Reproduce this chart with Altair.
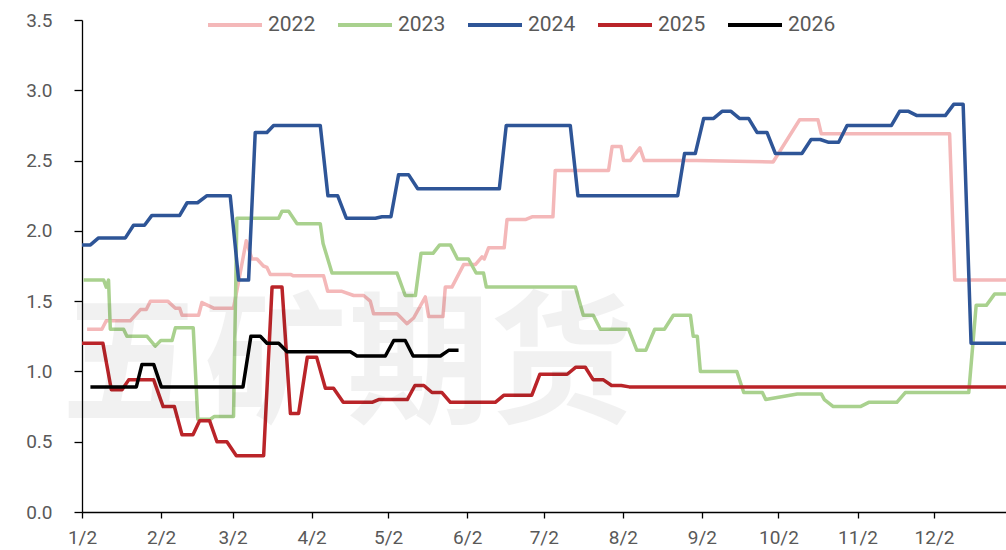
import altair as alt
import pandas as pd

# Series names and colours
years = ["2022", "2023", "2024", "2025", "2026"]
colors = ["#F4B8B9", "#A9D18E", "#2E5597", "#BA2429", "#000000"]

# x = days counted from 2 January, y = value
day_2022 = [2.0, 7.8, 9.5, 18.9, 22.9, 25.2, 26.8, 33.6, 36.6, 38.3,
            39.2, 45.7, 47.0, 51.6, 59.4, 64.4, 66.6, 68.6, 71.1, 72.5,
            73.8, 81.7, 82.9, 94.7, 96.3, 101.9, 106.5, 110.4, 113.0, 114.3,
            123.5, 127.4, 130.0, 134.6, 135.9, 141.5, 142.4, 145.0, 149.6, 154.2,
            156.8, 157.7, 159.4, 165.5, 166.6, 173.8, 176.4, 184.6, 185.5, 206.4,
            207.8, 211.3, 212.3, 214.9, 218.7, 220.4, 240.8, 270.9, 281.3, 288.5,
            289.8, 340.1, 342.1, 362.2]
val_2022 = [1.30, 1.30, 1.36, 1.36, 1.44, 1.44, 1.50, 1.50, 1.45, 1.45,
            1.40, 1.40, 1.49, 1.45, 1.45, 1.93, 1.80, 1.80, 1.75, 1.74,
            1.69, 1.69, 1.68, 1.68, 1.57, 1.57, 1.54, 1.54, 1.50, 1.41,
            1.41, 1.34, 1.38, 1.53, 1.39, 1.39, 1.60, 1.60, 1.76, 1.76,
            1.815, 1.80, 1.88, 1.88, 2.08, 2.08, 2.10, 2.10, 2.43, 2.43,
            2.60, 2.60, 2.50, 2.50, 2.59, 2.50, 2.50, 2.49, 2.79, 2.79,
            2.69, 2.69, 1.65, 1.65]

day_2023 = [0.6, 8.5, 9.5, 10.4, 11.1, 16.3, 17.6, 25.5, 28.7, 30.9,
            35.3, 36.6, 43.6, 45.4, 50.3, 51.9, 59.4, 60.7, 77.1, 78.4,
            81.0, 84.3, 93.4, 94.5, 98.0, 123.5, 126.7, 130.7, 132.9, 137.6,
            140.2, 144.4, 147.2, 151.5, 154.5, 157.4, 158.5, 193.4, 196.5, 200.4,
            203.2, 214.3, 217.5, 221.0, 224.5, 228.3, 231.8, 238.5, 239.6, 241.2,
            242.4, 256.7, 259.4, 266.7, 268.0, 280.4, 289.8, 291.0, 294.5, 305.1,
            308.4, 319.4, 322.7, 347.6, 350.5, 354.5, 357.7, 362.2]
val_2023 = [1.65, 1.65, 1.60, 1.65, 1.30, 1.30, 1.25, 1.25, 1.18, 1.22,
            1.22, 1.31, 1.31, 0.66, 0.66, 0.68, 0.68, 2.09, 2.09, 2.14,
            2.14, 2.05, 2.05, 1.91, 1.70, 1.70, 1.54, 1.54, 1.84, 1.84,
            1.90, 1.90, 1.80, 1.80, 1.70, 1.70, 1.60, 1.60, 1.40, 1.40,
            1.30, 1.30, 1.15, 1.15, 1.30, 1.30, 1.40, 1.40, 1.25, 1.25,
            1.00, 1.00, 0.85, 0.85, 0.80, 0.84, 0.84, 0.80, 0.75, 0.75,
            0.78, 0.78, 0.85, 0.85, 1.47, 1.47, 1.55, 1.55]

day_2024 = [0, 3.3, 6.5, 17, 20.2, 24.5, 27.4, 38.3, 41.2, 45.3,
            49, 58.1, 61.4, 65.3, 67.9, 72.5, 75.1, 93.4, 96.4, 100.2,
            103.6, 115, 117.6, 121.1, 124.1, 128, 131.6, 163.6, 166.3, 191.4,
            194.4, 233.5, 236.2, 240.4, 243.7, 247.6, 250.9, 254.4, 257.7, 261.3,
            264.6, 268.5, 271.8, 282.2, 285.8, 289.4, 292.7, 296.6, 299.9, 317.3,
            320.5, 324, 327.3, 338.4, 341.7, 345.4, 348.5, 362.2]
val_2024 = [1.90, 1.90, 1.95, 1.95, 2.04, 2.04, 2.11, 2.11, 2.20, 2.20,
            2.25, 2.25, 1.65, 1.65, 2.70, 2.70, 2.75, 2.75, 2.25, 2.25,
            2.09, 2.09, 2.10, 2.10, 2.40, 2.40, 2.30, 2.30, 2.75, 2.75,
            2.25, 2.25, 2.55, 2.55, 2.80, 2.80, 2.85, 2.85, 2.80, 2.80,
            2.70, 2.70, 2.55, 2.55, 2.65, 2.65, 2.63, 2.63, 2.75, 2.75,
            2.85, 2.85, 2.82, 2.82, 2.90, 2.90, 1.20, 1.20]

day_2025 = [0, 8.2, 11.5, 15.7, 18.3, 28.1, 31.8, 36.2, 39.2, 43.5,
            46.1, 50.0, 52.9, 56.8, 60.5, 71.2, 74.5, 78.4, 81.7, 84.9,
            88.3, 92.0, 95.4, 98.6, 102.4, 113.7, 116.3, 127.5, 130.5, 134.0,
            137.2, 141.1, 144.4, 162.0, 165.3, 176.3, 179.5, 190.2, 193.6, 197.3,
            200.4, 204.4, 207.6, 211.4, 214.5, 362.2]
val_2025 = [1.20, 1.20, 0.87, 0.87, 0.94, 0.94, 0.75, 0.75, 0.55, 0.55,
            0.65, 0.65, 0.50, 0.50, 0.40, 0.40, 1.60, 1.60, 0.70, 0.70,
            1.10, 1.10, 0.88, 0.88, 0.78, 0.78, 0.80, 0.80, 0.90, 0.90,
            0.85, 0.85, 0.78, 0.78, 0.83, 0.83, 0.98, 0.98, 1.03, 1.03,
            0.94, 0.94, 0.90, 0.90, 0.89, 0.89]

day_2026 = [3.3, 21.3, 23.5, 28.1, 31.1, 63.1, 66.2, 69.9, 72.5, 77.1,
            80.4, 105.2, 107.8, 118.9, 122.2, 126.7, 129.8, 140.5, 143.7, 147.6]
val_2026 = [0.89, 0.89, 1.05, 1.05, 0.89, 0.89, 1.25, 1.25, 1.20, 1.20,
            1.14, 1.14, 1.11, 1.11, 1.22, 1.22, 1.11, 1.11, 1.15, 1.15]

# Month ticks (2nd of each month) and their labels
tick_days = [0, 31, 59, 90, 120, 151, 181, 212, 243, 273, 304, 334]
tick_labels = ["1/2", "2/2", "3/2", "4/2", "5/2", "6/2",
               "7/2", "8/2", "9/2", "10/2", "11/2", "12/2"]
y_ticks = [0, 0.5, 1.0, 1.5, 2.0, 2.5, 3.0, 3.5]

all_days = [day_2022, day_2023, day_2024, day_2025, day_2026]
all_vals = [val_2022, val_2023, val_2024, val_2025, val_2026]

rows = []
for year, days, vals in zip(years, all_days, all_vals):
    for i, (d, v) in enumerate(zip(days, vals)):
        rows.append({"year": year, "day": d, "value": v, "seq": i})
df = pd.DataFrame(rows)

label_expr = ("[" + ",".join(f"'{t}'" for t in tick_labels) + "]"
              + "[indexof([" + ",".join(str(d) for d in tick_days) + "], datum.value)]")

FONT = "Roboto"
TEXT_GREY = "#595959"

lines = alt.Chart(df).mark_line(strokeWidth=3.5, strokeJoin="round", clip=True).encode(
    x=alt.X("day:Q",
            scale=alt.Scale(domain=[0, 362.2], nice=False, zero=False),
            axis=alt.Axis(values=tick_days, labelExpr=label_expr, title=None,
                          tickSize=6, labelPadding=10, labelOverlap=False,
                          labelFlush=False)),
    y=alt.Y("value:Q",
            scale=alt.Scale(domain=[0, 3.5], nice=False),
            axis=alt.Axis(values=y_ticks, format=".1f", title=None,
                          tickSize=8, labelPadding=22)),
    color=alt.Color("year:N",
                    scale=alt.Scale(domain=years, range=colors),
                    legend=alt.Legend(title=None, orient="none", direction="horizontal",
                                      legendX=124, legendY=-24,
                                      symbolType="stroke", symbolSize=2916,
                                      symbolStrokeWidth=4, labelFont=FONT,
                                      labelFontSize=21, labelColor=TEXT_GREY,
                                      labelOffset=4, columnPadding=14, padding=0)),
    order="seq:Q",
)

# faint company watermark across the plot
watermark = alt.Chart(pd.DataFrame({"t": ["五矿期货"]})).mark_text(
    font="Noto Sans CJK SC", fontSize=143, fontWeight="bold",
    color="#000000", opacity=0.05, align="center", baseline="middle",
).encode(x=alt.value(265), y=alt.value(349), text="t:N")

chart = alt.layer(lines, watermark).properties(
    width=924, height=492,
    padding={"left": 82, "top": 20, "right": 0, "bottom": 38},
    autosize=alt.AutoSizeParams(type="none"),
).configure_view(stroke=None).configure_axis(
    grid=False, labelFont=FONT, labelFontSize=19, labelColor=TEXT_GREY,
    domainColor="#000000", tickColor="#000000", domainWidth=1.3, tickWidth=1.3,
)

chart.save("out.html", embed_options={"renderer": "svg", "actions": False})
